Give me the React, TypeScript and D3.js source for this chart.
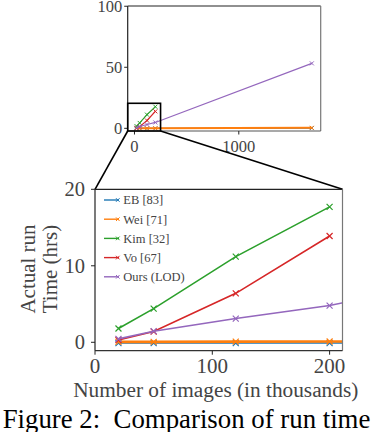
import React from "react";
import * as d3 from "d3";

// number of images, in thousands
const imageCounts = [20, 50, 120, 200, 1700];
const ebHours = [-0.1, -0.1, -0.1, -0.1, 0.2];
const weiHours = [0.05, 0.05, 0.08, 0.1, 0.4];
const kimHours = [1.8, 4.4, 11.2, 17.7];
const voHours = [0.3, 1.4, 6.4, 13.9];
const oursHours = [0.45, 1.45, 3.1, 4.8, 53.2];

const seriesNames = ["EB [83]", "Wei [71]", "Kim [32]", "Vo [67]", "Ours (LOD)"];
const seriesColors = ["#1f77b4", "#ff7f0e", "#2ca02c", "#d62728", "#9467bd"];
const seriesValues = [ebHours, weiHours, kimHours, voHours, oursHours];

const topXTicks = [0, 1000];
const topYTicks = [0, 50, 100];
const bottomXTicks = [0, 100, 200];
const bottomYTicks = [0, 10, 20];

// zoomed region marked on the overview plot
const zoomX = [-65, 250];
const zoomY = [-2.2, 20.5];

const FONT = "'Liberation Serif', 'Times New Roman', serif";
const TXT = "#444";

type Pt = [number, number];

function Cross({ x, y, s, color, w }: { x: number; y: number; s: number; color: string; w: number }) {
  return (
    <path
      d={`M${x - s},${y - s}L${x + s},${y + s}M${x - s},${y + s}L${x + s},${y - s}`}
      stroke={color}
      strokeWidth={w}
      fill="none"
    />
  );
}

export default function App() {
  const series = seriesNames.map((name, i) => ({
    name,
    color: seriesColors[i],
    points: seriesValues[i].map((v, j) => [imageCounts[j], v] as Pt),
  }));

  // overview plot
  const tx = d3.scaleLinear().domain([-65, 1785]).range([127.7, 320.7]);
  const ty = d3.scaleLinear().domain([-2.2, 100.2]).range([131, 6]);
  // zoomed plot
  const bx = d3.scaleLinear().domain([0, 211]).range([95, 342.5]);
  const by = d3.scaleLinear().domain([-1.1, 20]).range([350.7, 189.3]);

  const topLine = d3.line<Pt>().x(d => tx(d[0])).y(d => ty(d[1]));
  const botLine = d3.line<Pt>().x(d => bx(d[0])).y(d => by(d[1]));

  const [tx0, tx1] = tx.range();
  const [ty0, ty1] = ty.range();
  const [bx0, bx1] = bx.range();
  const [by0, by1] = by.range();

  const lineW = (i: number) => (i === 1 ? 2.6 : 1.6);

  return (
    <svg width={386} height={432} style={{ display: "block", position: "absolute", left: 0, top: 0 }}>
      <rect width={386} height={432} fill="#fff" />

      {/* ---- overview ---- */}
      <g>
        {series.map((s, i) => (
          <g key={s.name}>
            <path d={topLine(s.points) || ""} stroke={s.color} strokeWidth={i === 1 ? 2 : 1.2} fill="none" />
            {s.points.map((p, j) => (
              <Cross key={j} x={tx(p[0])} y={ty(p[1])} s={2} color={s.color} w={1} />
            ))}
          </g>
        ))}
        <path d={`M${tx0},${ty1}H${tx1}`} stroke="#222" strokeWidth={1.2} />
        <path d={`M${tx0},${ty1}V${ty0}`} stroke="#222" strokeWidth={1.2} />
        <path d={`M${tx1},${ty1}V${ty0}`} stroke="#777" strokeWidth={1.2} />
        <path d={`M${tx0},${ty0}H${tx1}`} stroke="#555" strokeWidth={1.2} />
        {topYTicks.map(t => (
          <g key={t}>
            <line x1={tx0 - 3.5} x2={tx0} y1={ty(t)} y2={ty(t)} stroke="#222" />
            <text x={tx0 - 5.5} y={ty(t)} dy="0.33em" textAnchor="end" fontSize={16.5} fontFamily={FONT} fill={TXT}>
              {t}
            </text>
          </g>
        ))}
        {topXTicks.map(t => (
          <g key={t}>
            <line x1={tx(t)} x2={tx(t)} y1={ty0} y2={ty0 + 3.5} stroke="#222" />
            <text x={tx(t)} y={151.5} textAnchor="middle" fontSize={16.5} fontFamily={FONT} fill={TXT}>
              {t}
            </text>
          </g>
        ))}
        <rect
          x={tx(zoomX[0])}
          y={ty(zoomY[1])}
          width={tx(zoomX[1]) - tx(zoomX[0])}
          height={ty(zoomY[0]) - ty(zoomY[1])}
          fill="none"
          stroke="#000"
          strokeWidth={1.6}
        />
      </g>

      {/* connectors */}
      <line x1={tx(zoomX[0])} y1={ty(zoomY[0])} x2={bx0} y2={by1} stroke="#000" strokeWidth={1.6} />
      <line x1={tx(zoomX[1])} y1={ty(zoomY[0])} x2={bx1} y2={by1} stroke="#000" strokeWidth={1.6} />

      {/* ---- zoomed ---- */}
      <defs>
        <clipPath id="bclip">
          <rect x={bx0} y={by1} width={bx1 - bx0} height={by0 - by1} />
        </clipPath>
      </defs>
      <g clipPath="url(#bclip)">
        {series.map((s, i) => (
          <g key={s.name}>
            <path d={botLine(s.points) || ""} stroke={s.color} strokeWidth={lineW(i)} fill="none" />
            {s.points.map((p, j) => (
              <Cross key={j} x={bx(p[0])} y={by(p[1])} s={3} color={s.color} w={1.2} />
            ))}
          </g>
        ))}
      </g>
      <path d={`M${bx0},${by1}H${bx1}`} stroke="#222" strokeWidth={1.2} />
      <path d={`M${bx0},${by1}V${by0}`} stroke="#222" strokeWidth={1.2} />
      <path d={`M${bx1},${by1}V${by0}`} stroke="#777" strokeWidth={1.2} />
      <path d={`M${bx0},${by0}H${bx1}`} stroke="#333" strokeWidth={1.2} />
      {bottomYTicks.map(t => (
        <g key={t}>
          <line x1={bx0 - 4} x2={bx0} y1={by(t)} y2={by(t)} stroke="#222" />
          <text x={bx0 - 10} y={by(t)} dy="0.34em" textAnchor="end" fontSize={20.5} fontFamily={FONT} fill={TXT}>
            {t}
          </text>
        </g>
      ))}
      {bottomXTicks.map(t => (
        <g key={t}>
          <line x1={bx(t)} x2={bx(t)} y1={by0} y2={by0 + 4} stroke="#222" />
          <text x={bx(t)} y={373} textAnchor="middle" fontSize={21} fontFamily={FONT} fill={TXT}>
            {t}
          </text>
        </g>
      ))}
      <text x={(bx0 + bx1) / 2 - 3} y={397} textAnchor="middle" fontSize={21.3} fontFamily={FONT} fill={TXT}>
        Number of images (in thousands)
      </text>
      <g transform="translate(35,269) rotate(-90)">
        <text textAnchor="middle" fontSize={21} fontFamily={FONT} fill={TXT}>
          Actual run
        </text>
      </g>
      <g transform="translate(57,269) rotate(-90)">
        <text textAnchor="middle" fontSize={21} fontFamily={FONT} fill={TXT}>
          Time (hrs)
        </text>
      </g>

      {/* legend */}
      {series.map((s, i) => {
        const y = 200 + i * 19.2;
        return (
          <g key={s.name}>
            <line x1={104} x2={119} y1={y} y2={y} stroke={s.color} strokeWidth={1.4} />
            <Cross x={117.8} y={y} s={1.8} color={s.color} w={1} />
            <text x={123.3} y={y} dy="0.35em" fontSize={12.5} fontFamily={FONT} fill={TXT}>
              {s.name}
            </text>
          </g>
        );
      })}

      {/* caption */}
      <text x={2.7} y={427.7} fontSize={26.8} fontFamily={FONT} fill="#000" xmlSpace="preserve">
        {"Figure 2:  Comparison of run time"}
      </text>
    </svg>
  );
}
